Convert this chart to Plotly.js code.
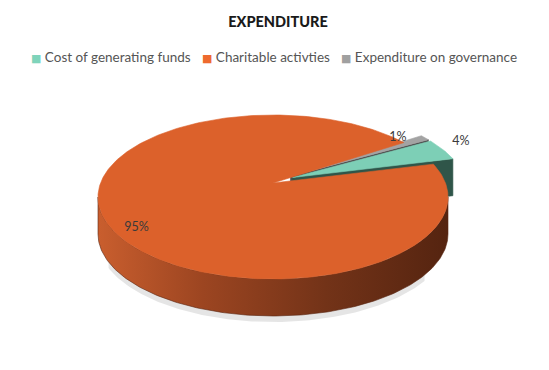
<!DOCTYPE html>
<html>
<head>
<meta charset="utf-8">
<script src="https://cdn.plot.ly/plotly-3.0.1.min.js"></script>
<style>html,body{margin:0;padding:0;background:#fff;}#chart{width:549px;height:370px;}</style>
</head>
<body>
<div id="chart"></div>
<script>
// ---- data ----
const categories = ['Cost of generating funds', 'Charitable activties', 'Expenditure on governance'];
const values = [4, 95, 1];
const chartTitle = 'EXPENDITURE';

// ---- styles ----
const topColors = ['#7dcfb6', '#dc612b', '#a3a3a3'];
const legendColors = ['#7fd4bb', '#ee6a2e', '#a0a0a0'];
const faceColors = ['#2f5549', '#5a2612', '#4d4d4d'];
const pulls = [0.13, 0, 0.13];
const labelShiftX = [18, 11, -27];
const labelShiftY = [-8, -13, 0];
const legendX = [29, 200, 339];  // left edge of each legend entry (px)
const startAngle = 52;          // degrees clockwise from 12 o'clock
const CX = 273, CY = 197, RX = 175, RY = 82, DEPTH = 37, VOFF = 14;
const FONT = 'Lato, "Open Sans", sans-serif';

const total = values.reduce((a, b) => a + b, 0);
const rad = d => d * Math.PI / 180;
function rim(theta, ox, oy, down) {
  return [CX + ox + RX * Math.sin(rad(theta)), CY + oy - RY * Math.cos(rad(theta)) + down];
}
function arc(t1, t2, ox, oy, down) {
  const pts = [];
  const n = Math.max(2, Math.ceil(Math.abs(t2 - t1)));
  for (let i = 0; i <= n; i++) pts.push(rim(t1 + (t2 - t1) * i / n, ox, oy, down));
  return pts;
}
function poly(pts, fill, extra) {
  const xs = pts.map(p => p[0]), ys = pts.map(p => p[1]);
  xs.push(xs[0]); ys.push(ys[0]);
  return Object.assign({
    type: 'scatter', mode: 'lines', x: xs, y: ys, fill: 'toself',
    fillcolor: fill, line: {color: fill, width: 0.6}, hoverinfo: 'skip', showlegend: false
  }, extra || {});
}

// slice angles
const slices = [];
let a = startAngle;
values.forEach((v, i) => {
  const span = v / total * 360;
  const mid = a + span / 2;
  const ox = pulls[i] * RX * Math.sin(rad(mid));
  const oy = -pulls[i] * RY * Math.cos(rad(mid));
  slices.push({i, t1: a, t2: a + span, mid, ox, oy});
  a += span;
});

const traces = [];
// soft shadow under the front wall
traces.push(poly(arc(120, 250, 0, 0, DEPTH - 1).concat(arc(250, 120, 0, 3, DEPTH + 3)), 'rgba(0,0,0,0.10)',
  {line: {width: 0, color: 'rgba(0,0,0,0)'}}));

// exploded slices first (behind)
slices.filter(s => pulls[s.i] > 0).sort((p, q) => q.i - p.i).forEach(s => {
  const V = [CX + s.ox, CY - VOFF + s.oy];
  const R = rim(s.t2, s.ox, s.oy, 0);
  traces.push(poly([V, R, [R[0], R[1] + DEPTH], [V[0], V[1] + DEPTH]], faceColors[s.i]));
  traces.push(poly([V].concat(arc(s.t1, s.t2, s.ox, s.oy, 0)), topColors[s.i]));
});

// main slice: front wall and top
slices.filter(s => pulls[s.i] === 0).forEach(s => {
  const lo = Math.max(s.t1, 90), hi = Math.min(s.t2, 270);
  if (hi > lo) {
    const wall = arc(lo, hi, s.ox, s.oy, 0).concat(arc(hi, lo, s.ox, s.oy, DEPTH));
    traces.push(poly(wall, faceColors[s.i], {
      fillgradient: {type: 'horizontal', colorscale: [[0, '#c95e2e'], [0.3, '#9c4521'], [0.65, '#733318'], [1, '#552410']]}
    }));
  }
  const V = [CX + s.ox, CY - VOFF + s.oy];
  traces.push(poly([V].concat(arc(s.t1, s.t2, s.ox, s.oy, 0)), topColors[s.i]));
});

// percentage labels
const lx = [], ly = [], lt = [];
slices.forEach(s => {
  const p = rim(s.mid, s.ox, s.oy, 0);
  lx.push(p[0] + labelShiftX[s.i]);
  ly.push(p[1] + labelShiftY[s.i]);
  lt.push(Math.round(values[s.i] / total * 100) + '%');
});
traces.push({type: 'scatter', mode: 'text', x: lx, y: ly, text: lt,
  textfont: {family: FONT, size: 12.5, color: '#3a3a3a'}, hoverinfo: 'skip', showlegend: false});

// legend entries (colour square + category name)
const annotations = categories.map((c, i) => ({
  xref: 'x', yref: 'y', x: legendX[i], y: 57, xanchor: 'left', yanchor: 'middle', showarrow: false,
  text: '<span style="color:' + legendColors[i] + ';font-family:DejaVu Sans;font-size:11px">■</span> ' + c,
  font: {family: FONT, size: 13.5, color: '#555555'}
}));

const layout = {
  width: 549, height: 370,
  margin: {l: 0, r: 0, t: 0, b: 0},
  paper_bgcolor: '#ffffff', plot_bgcolor: '#ffffff',
  title: {text: chartTitle, x: 278 / 549, xanchor: 'center', y: 1 - 22 / 370, yanchor: 'middle',
    yref: 'container', font: {family: FONT, size: 14.5, weight: 900, color: '#1a1a1a'}},
  xaxis: {range: [0, 549], visible: false, fixedrange: true},
  yaxis: {range: [370, 0], visible: false, fixedrange: true},
  showlegend: false,
  annotations: annotations,
  font: {family: FONT}
};
Plotly.newPlot('chart', traces, layout, {staticPlot: true, displayModeBar: false});
</script>
</body>
</html>
